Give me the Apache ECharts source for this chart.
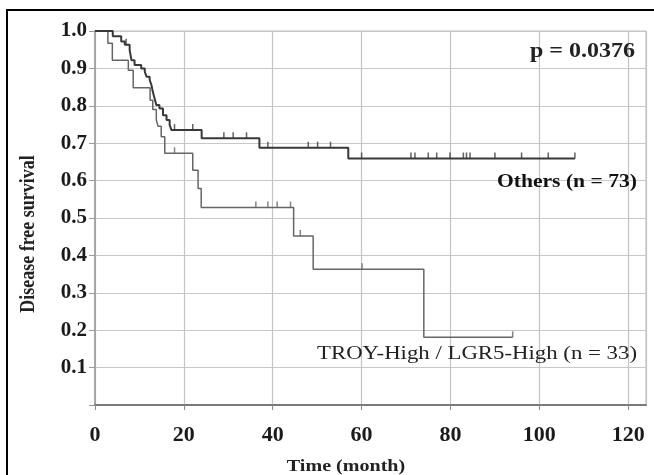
<!DOCTYPE html>
<html>
<head>
<meta charset="utf-8">
<script src="https://cdn.jsdelivr.net/npm/echarts@6/dist/echarts.min.js"></script>
<style>
html,body{margin:0;padding:0;background:#fff;}
#chart{width:654px;height:475px;}
</style>
</head>
<body>
<div id="chart"></div>
<script>
// ---- Data ----
const xTicks = [0, 20, 40, 60, 80, 100, 120];
const yTicks = [0.1, 0.2, 0.3, 0.4, 0.5, 0.6, 0.7, 0.8, 0.9, 1.0];

// Others (n = 73): event times (months) and survival after each event
const othersTime = [0, 4.0, 5.9, 6.7, 7.8, 8.2, 8.9, 10.4, 11.2, 11.6, 12.3, 12.7, 13.0, 13.4, 13.8, 14.5, 15.3, 16.1, 16.8, 17.2, 24.0, 37.0, 57.0, 108.0];
const othersSurv = [1.0, 0.986, 0.972, 0.963, 0.949, 0.922, 0.909, 0.900, 0.891, 0.878, 0.869, 0.856, 0.838, 0.820, 0.802, 0.793, 0.775, 0.762, 0.749, 0.735, 0.713, 0.688, 0.659, 0.659];
const othersCensor = [7.0, 17.9, 22.0, 29.0, 31.1, 34.1, 38.9, 48.0, 50.1, 53.0, 60.0, 71.1, 72.0, 75.0, 76.9, 79.9, 82.9, 83.6, 84.4, 90.0, 96.0, 102.0, 108.0];

// TROY-High / LGR5-High (n = 33)
const troyTime = [0, 2.9, 3.9, 7.5, 8.6, 12.4, 13.0, 13.8, 14.2, 14.9, 15.7, 22.0, 23.2, 23.9, 44.7, 49.1, 74.0, 94.0];
const troySurv = [1.0, 0.967, 0.922, 0.895, 0.848, 0.815, 0.790, 0.762, 0.745, 0.717, 0.673, 0.628, 0.579, 0.528, 0.452, 0.363, 0.181, 0.181];
const troyCensor = [17.9, 36.2, 38.9, 41.0, 44.0, 46.2, 60.1, 94.0];

const pText = 'p = 0.0376';
const othersLabel = 'Others (n = 73)';
const troyLabel = 'TROY-High / LGR5-High (n = 33)';

// ---- helpers ----
function pairs(t, s) { return t.map((v, i) => [v, s[i]]); }
function survAt(t, s, x) {
  let v = s[0];
  for (let i = 0; i < t.length; i++) { if (t[i] <= x) v = s[i]; }
  return v;
}
function censorPts(t, s, c) { return c.map(x => [x, survAt(t, s, x)]); }

const serif = "'Liberation Serif', 'Times New Roman', serif";

const chart = echarts.init(document.getElementById('chart'), null, {renderer: 'canvas'});
chart.setOption({
  animation: false,
  backgroundColor: '#fff',
  grid: {left: 95, right: 8, top: 31, bottom: 70, show: true, borderColor: '#c4c4c4', borderWidth: 1.2},
  xAxis: {
    type: 'value', min: 0, max: 124, interval: 20,
    axisLine: {show: true, onZero: false, lineStyle: {color: '#7a7a7a', width: 2}},
    axisTick: {show: true, length: 5, lineStyle: {color: '#8a8a8a', width: 1}},
    axisLabel: {
      margin: 19, color: '#1a1a1a', fontFamily: serif, fontWeight: 'bold', fontSize: 22,
      formatter: v => (xTicks.indexOf(v) >= 0 ? String(v) : ''),
      showMaxLabel: false
    },
    splitLine: {show: true, lineStyle: {color: '#c4c4c4', width: 1.2}}
  },
  yAxis: {
    type: 'value', min: 0, max: 1, interval: 0.1,
    axisLine: {show: true, onZero: false, lineStyle: {color: '#9a9a9a', width: 1.5}},
    axisTick: {show: true, length: 6, lineStyle: {color: '#9a9a9a', width: 1}},
    axisLabel: {
      margin: 8, color: '#1a1a1a', fontFamily: serif, fontWeight: 'bold', fontSize: 21,
      formatter: v => {
        const r = Math.round(v * 10) / 10;
        return yTicks.indexOf(r) >= 0 ? r.toFixed(1) : '';
      }
    },
    splitLine: {show: true, lineStyle: {color: '#c8c8c8', width: 1.2}}
  },
  series: [
    {
      name: 'Others', type: 'line', step: 'end', showSymbol: false, z: 3,
      data: pairs(othersTime, othersSurv),
      lineStyle: {color: '#383838', width: 2}
    },
    {
      name: 'TROY', type: 'line', step: 'end', showSymbol: false, z: 2,
      data: pairs(troyTime, troySurv),
      lineStyle: {color: '#666', width: 1.5}
    },
    {
      name: 'Others censored', type: 'scatter', z: 4,
      data: censorPts(othersTime, othersSurv, othersCensor),
      symbol: 'rect', symbolSize: [1.5, 6], symbolOffset: [0, -3],
      itemStyle: {color: '#383838'}
    },
    {
      name: 'TROY censored', type: 'scatter', z: 4,
      data: censorPts(troyTime, troySurv, troyCensor),
      symbol: 'rect', symbolSize: [1.5, 6], symbolOffset: [0, -3],
      itemStyle: {color: '#666'}
    }
  ],
  graphic: [
    {type: 'rect', z: -1, silent: true, shape: {x: 7, y: 10, width: 680, height: 500},
     style: {fill: null, stroke: '#000', lineWidth: 2}},
    {type: 'text', x: 635, y: 52, scaleX: 1.2, z: 10,
     style: {text: pText, fontFamily: serif, fontWeight: 'bold', fontSize: 20, fill: '#222',
             textAlign: 'right', textVerticalAlign: 'middle'}},
    {type: 'text', x: 637, y: 182, scaleX: 1.2, z: 10,
     style: {text: othersLabel, fontFamily: serif, fontWeight: 'bold', fontSize: 18, fill: '#111',
             textAlign: 'right', textVerticalAlign: 'middle'}},
    {type: 'text', x: 637, y: 354, scaleX: 1.2, z: 10,
     style: {text: troyLabel, fontFamily: serif, fontWeight: 'normal', fontSize: 19, fill: '#222',
             textAlign: 'right', textVerticalAlign: 'middle'}},
    {type: 'text', x: 346, y: 467, scaleX: 1.18, z: 10,
     style: {text: 'Time (month)', fontFamily: serif, fontWeight: 'bold', fontSize: 17, fill: '#222',
             textAlign: 'center', textVerticalAlign: 'middle'}},
    {type: 'text', x: 29, y: 234, rotation: Math.PI / 2, scaleY: 1.15, z: 10,
     style: {text: 'Disease free survival', fontFamily: serif, fontWeight: 'bold', fontSize: 18, fill: '#222',
             textAlign: 'center', textVerticalAlign: 'middle'}}
  ]
});
</script>
</body>
</html>
